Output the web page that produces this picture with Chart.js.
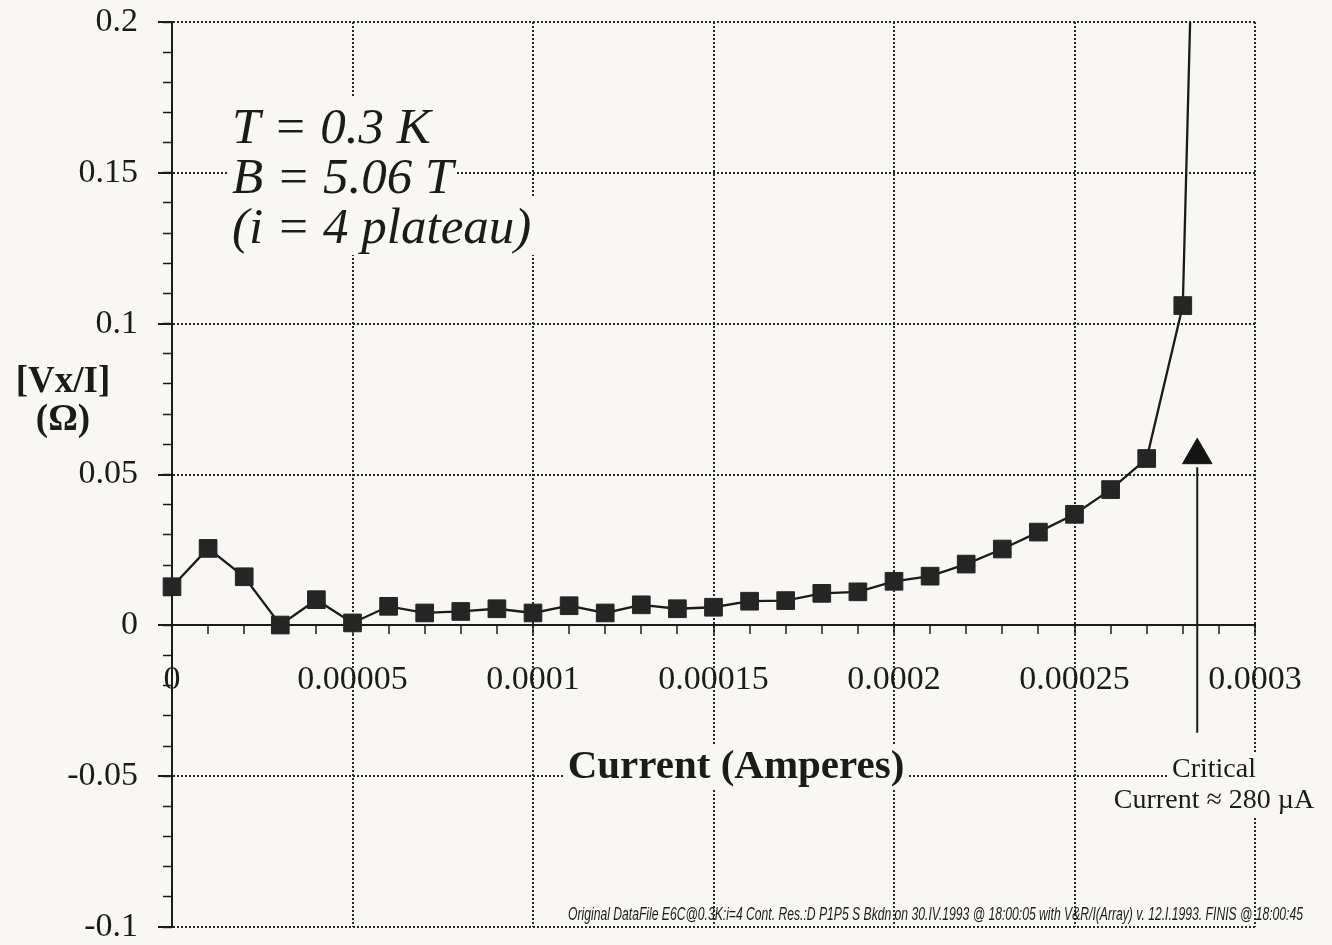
<!DOCTYPE html>
<html>
<head>
<meta charset="utf-8">
<title>Critical current</title>
<script src="https://cdn.jsdelivr.net/npm/chart.js@4.4.1/dist/chart.umd.min.js"></script>
<style>
  html, body { margin: 0; padding: 0; background: #f8f7f3; }
  canvas { display: block; }
</style>
</head>
<body>
<canvas id="icChart" width="1332" height="945"></canvas>
<script>
// measured points: current (A) vs longitudinal resistance Vx/I (ohm)
var currentA = [0, 0.00001, 0.00002, 0.00003, 0.00004, 0.00005, 0.00006, 0.00007, 0.00008, 0.00009,
                0.0001, 0.00011, 0.00012, 0.00013, 0.00014, 0.00015, 0.00016, 0.00017, 0.00018, 0.00019,
                0.0002, 0.00021, 0.00022, 0.00023, 0.00024, 0.00025, 0.00026, 0.00027, 0.00028, 0.00029];
var resistanceOhm = [0.0128, 0.0255, 0.0161, 0.0001, 0.0085, 0.0008, 0.0063, 0.0041, 0.0046, 0.0055,
                     0.0041, 0.0065, 0.0041, 0.0068, 0.0055, 0.0060, 0.0080, 0.0082, 0.0106, 0.0111,
                     0.0146, 0.0163, 0.0203, 0.0253, 0.0309, 0.0368, 0.0450, 0.0553, 0.1060, 0.5700];

// critical current marker (triangle + arrow shaft)
var criticalCurrent = [0.000284];
var criticalMarkY = [0.0564];
var criticalArrowY = [0.0524, -0.0356];

// tick labels
var xTickLabels = ['0', '0.00005', '0.0001', '0.00015', '0.0002', '0.00025', '0.0003'];
var yTickLabels = ['-0.1', '-0.05', '0', '0.05', '0.1', '0.15', '0.2'];

// text
var conditionLines = ['T = 0.3 K', 'B = 5.06 T', '(i = 4 plateau)'];
var yTitleLines = ['[Vx/I]', '(\u03A9)'];
var xTitle = 'Current (Amperes)';
var criticalLines = ['Critical', 'Current \u2248 280 \u00B5A'];
var footer = 'Original DataFile E6C@0.3K:i=4 Cont. Res.:D P1P5 S Bkdn on 30.IV.1993 @ 18:00:05 with V&R/I(Array) v. 12.I.1993. FINIS @ 18:00:45';

var BG = '#f8f7f3';
var INK = '#1b1b1b';
var GRID = '#2a2a2a';
var SERIF = '"Liberation Serif", "Times New Roman", serif';

function textLine(ctx, text, x, y, align, mask) {
    var w = ctx.measureText(text).width;
    var left = align === 'center' ? x - w / 2 : x;
    if (mask) {
        ctx.fillStyle = BG;
        ctx.fillRect(left - 3, y - mask[0], w + 6, mask[0] + mask[1]);
    }
    ctx.fillStyle = INK;
    ctx.textAlign = 'left';
    ctx.fillText(text, left, y);
}

var notesPlugin = {
    id: 'notes',
    beforeDatasetsDraw: function(chart) {
        var ctx = chart.ctx;
        ctx.save();
        ctx.textBaseline = 'alphabetic';

        ctx.font = 'italic 51px ' + SERIF;
        for (var i = 0; i < conditionLines.length; i++) {
            textLine(ctx, conditionLines[i], 232, 143 + i * 50, 'left', [46, 12]);
        }

        ctx.font = 'bold 37px ' + SERIF;
        textLine(ctx, yTitleLines[0], 63, 392, 'center');
        textLine(ctx, yTitleLines[1], 63, 430, 'center');

        ctx.font = 'bold 41px ' + SERIF;
        textLine(ctx, xTitle, 736, 778, 'center', [34, 10]);

        ctx.font = '28px ' + SERIF;
        textLine(ctx, criticalLines[0], 1214, 777, 'center', [24, 8]);
        textLine(ctx, criticalLines[1], 1214, 808, 'center', [24, 9]);

        // footer squeezed to the original width
        ctx.font = 'italic 19px "Liberation Sans", sans-serif';
        var fw = ctx.measureText(footer).width;
        ctx.translate(568, 920);
        ctx.scale(735 / fw, 1);
        ctx.fillStyle = INK;
        ctx.textAlign = 'left';
        ctx.fillText(footer, 0, 0);
        ctx.restore();
    }
};

var points = [];
for (var i = 0; i < currentA.length; i++) {
    points.push({x: currentA[i], y: resistanceOhm[i]});
}
var arrow = [];
for (var j = 0; j < criticalArrowY.length; j++) {
    arrow.push({x: criticalCurrent[0], y: criticalArrowY[j]});
}

var ctx = document.getElementById('icChart').getContext('2d');
var chart = new Chart(ctx, {
    type: 'line',
    data: {
        datasets: [{
            label: 'Vx/I',
            data: points,
            borderColor: INK,
            borderWidth: 2.3,
            backgroundColor: '#252525',
            pointStyle: 'rect',
            pointRadius: 12.5,
            pointBorderWidth: 1,
            pointBorderColor: '#252525',
            tension: 0,
            clip: {left: 20, top: 0, right: 20, bottom: 20}
        }, {
            label: 'arrow',
            data: arrow,
            borderColor: INK,
            borderWidth: 2,
            pointRadius: 0
        }, {
            label: 'critical',
            data: [{x: criticalCurrent[0], y: criticalMarkY[0]}],
            showLine: false,
            pointStyle: 'triangle',
            pointRadius: 17,
            backgroundColor: '#141414',
            borderColor: '#141414',
            pointBorderWidth: 1
        }]
    },
    options: {
        responsive: false,
        animation: false,
        devicePixelRatio: 1,
        layout: {padding: {top: 22, right: 77, bottom: 13, left: 0}},
        plugins: {
            legend: {display: false},
            tooltip: {enabled: false}
        },
        scales: {
            x: {
                type: 'linear',
                min: 0,
                max: 0.0003,
                position: {y: 0},
                afterFit: function(s) { s.height = 0; s.paddingLeft = 0; s.paddingRight = 0; },
                ticks: {
                    stepSize: 0.00001,
                    autoSkip: false,
                    maxRotation: 0,
                    padding: 26,
                    color: INK,
                    font: {family: 'Liberation Serif', size: 34},
                    callback: function(v, i) { return i % 5 === 0 ? xTickLabels[i / 5] : ''; }
                },
                grid: {
                    color: function(c) { return c.index % 5 === 0 ? GRID : 'rgba(0,0,0,0)'; },
                    lineWidth: 2,
                    tickColor: INK,
                    tickWidth: 1.5,
                    tickLength: 8
                },
                border: {display: true, color: INK, width: 2, dash: [2, 2]}
            },
            y: {
                type: 'linear',
                min: -0.1,
                max: 0.2,
                position: 'left',
                weight: 0,
                afterFit: function(s) { s.width = 172; s.paddingTop = 0; s.paddingBottom = 0; },
                ticks: {
                    stepSize: 0.05,
                    padding: 20,
                    color: INK,
                    font: {family: 'Liberation Serif', size: 34},
                    callback: function(v, i) { return yTickLabels[i]; }
                },
                grid: {
                    color: GRID,
                    lineWidth: 2,
                    tickColor: INK,
                    tickWidth: 2,
                    tickLength: 14
                },
                border: {display: true, color: INK, width: 2, dash: [2, 2]}
            },
            yMinor: {
                type: 'linear',
                min: -0.1,
                max: 0.2,
                position: 'left',
                weight: -1,
                afterFit: function(s) { s.width = 0; s.paddingTop = 0; s.paddingBottom = 0; },
                ticks: {stepSize: 0.01, display: false},
                grid: {drawOnChartArea: false, tickColor: INK, tickWidth: 1.5, tickLength: 9},
                border: {display: false}
            }
        }
    },
    plugins: [notesPlugin]
});
</script>
</body>
</html>
